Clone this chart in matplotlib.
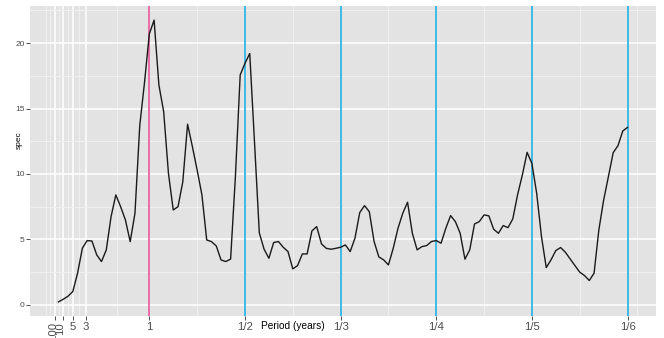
import matplotlib.pyplot as plt
from matplotlib.transforms import ScaledTranslation

# frequency (cycles per year) and spectrum estimate
freq = [0.05, 0.10, 0.15, 0.20, 0.25, 0.30, 0.35, 0.40, 0.45, 0.50,
        0.55, 0.60, 0.65, 0.70, 0.75, 0.80, 0.85, 0.90, 0.95, 1.00,
        1.05, 1.10, 1.15, 1.20, 1.25, 1.30, 1.35, 1.40, 1.45, 1.50,
        1.55, 1.60, 1.65, 1.70, 1.75, 1.80, 1.85, 1.90, 1.95, 2.00,
        2.05, 2.10, 2.15, 2.20, 2.25, 2.30, 2.35, 2.40, 2.45, 2.50,
        2.55, 2.60, 2.65, 2.70, 2.75, 2.80, 2.85, 2.90, 2.95, 3.00,
        3.05, 3.10, 3.15, 3.20, 3.25, 3.30, 3.35, 3.40, 3.45, 3.50,
        3.55, 3.60, 3.65, 3.70, 3.75, 3.80, 3.85, 3.90, 3.95, 4.00,
        4.05, 4.10, 4.15, 4.20, 4.25, 4.30, 4.35, 4.40, 4.45, 4.50,
        4.55, 4.60, 4.65, 4.70, 4.75, 4.80, 4.85, 4.90, 4.95, 5.00,
        5.05, 5.10, 5.15, 5.20, 5.25, 5.30, 5.35, 5.40, 5.45, 5.50,
        5.55, 5.60, 5.65, 5.70, 5.75, 5.80, 5.85, 5.90, 5.95, 6.00]
spec = [0.23, 0.43, 0.66, 1.02, 2.42, 4.33, 4.91, 4.88, 3.82, 3.31,
        4.20, 6.74, 8.40, 7.50, 6.49, 4.83, 7.00, 13.7, 17.0, 20.7,
        21.75, 16.8, 14.76, 10.05, 7.25, 7.50, 9.40, 13.8, 12.1, 10.3,
        8.40, 4.96, 4.83, 4.50, 3.43, 3.31, 3.50, 9.80, 17.56, 18.45,
        19.2, 12.4, 5.50, 4.25, 3.56, 4.76, 4.84, 4.40, 4.07, 2.75,
        3.00, 3.89, 3.89, 5.65, 5.98, 4.66, 4.32, 4.25, 4.32, 4.40,
        4.58, 4.07, 5.09, 7.05, 7.58, 7.12, 4.84, 3.66, 3.44, 3.05,
        4.32, 5.85, 7.00, 7.84, 5.47, 4.20, 4.45, 4.53, 4.84, 4.91,
        4.71, 5.85, 6.82, 6.36, 5.47, 3.49, 4.20, 6.18, 6.36, 6.87,
        6.80, 5.78, 5.47, 6.06, 5.90, 6.56, 8.40, 9.92, 11.65, 10.81,
        8.52, 5.22, 2.85, 3.44, 4.15, 4.38, 4.02, 3.51, 3.00, 2.50,
        2.24, 1.86, 2.42, 5.73, 8.00, 9.80, 11.63, 12.16, 13.28, 13.56]

period_breaks = [0.01, 0.1, 0.2, 1 / 3, 1, 2, 3, 4, 5, 6]
period_labels = ["100", "10", "5", "3", "1", "1/2", "1/3", "1/4", "1/5", "1/6"]
minor_x = [-0.075, -0.035, 0.055, 0.15, 0.267, 0.667, 1.5, 2.5, 3.5, 4.5, 5.5, 6.1]
annual = [1]
harmonics = [2, 3, 4, 5, 6]

plt.rcParams['font.family'] = ['Liberation Sans', 'DejaVu Sans']

fig = plt.figure(figsize=(6.64, 3.38), dpi=100)
ax = fig.add_axes([30 / 664, 1 - 316 / 338, 626 / 664, 310 / 338])
ax.set_facecolor('#E3E3E3')
for s in ax.spines.values():
    s.set_visible(False)

ax.set_xlim(-0.2475, 6.2975)
ax.set_ylim(-0.85, 22.83)

ax.set_xticks(period_breaks)
ax.set_xticklabels(period_labels)
ax.set_xticks(minor_x, minor=True)
ax.set_yticks([0, 5, 10, 15, 20])
ax.set_yticks([2.5, 7.5, 12.5, 17.5, 22.5], minor=True)

ax.grid(which='major', color='white', linewidth=1.1)
ax.grid(which='minor', color='#F2F2F2', linewidth=0.6)
ax.set_axisbelow(True)

ax.tick_params(axis='x', which='major', length=2.6, width=0.6, color='#333333',
               labelsize=8.2, labelcolor='#4D4D4D', pad=1.8)
ax.tick_params(axis='y', which='major', length=2.6, width=0.6, color='#333333',
               labelsize=6, labelcolor='#4D4D4D', pad=1.2)
ax.tick_params(which='minor', length=0)

# the two longest periods are written sideways, nudged left a little
shifts = [-1.5, -3.5]
for lab, dx in zip(ax.get_xticklabels()[:2], shifts):
    lab.set_rotation(90)
    lab.set_transform(lab.get_transform() + ScaledTranslation(dx / 100, 0, fig.dpi_scale_trans))

for v in annual:
    ax.axvline(v, color='#E8619F', linewidth=1.3)
for v in harmonics:
    ax.axvline(v, color='#2CB5E6', linewidth=1.3)

ax.plot(freq, spec, color='#1A1A1A', linewidth=1.0)

ax.set_xlabel('Period (years)', fontsize=7.3, va='center')
ax.xaxis.set_label_coords(0.42, -0.033)
ax.set_ylabel('spec', fontsize=6, va='center')
ax.yaxis.set_label_coords(-0.0165, 0.568)

fig.savefig('out.png', dpi=100)
